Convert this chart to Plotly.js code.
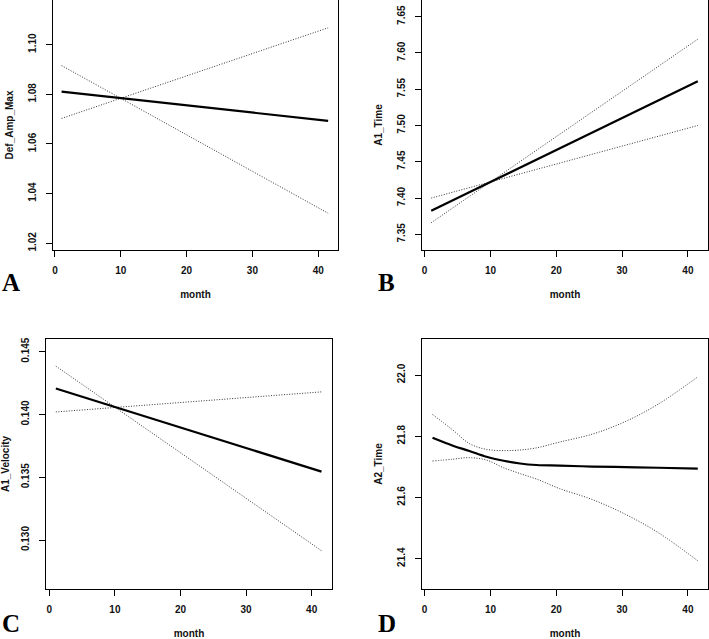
<!DOCTYPE html>
<html>
<head>
<meta charset="utf-8">
<script src="https://cdn.plot.ly/plotly-3.0.1.min.js"></script>
<style>html,body{margin:0;padding:0;background:#fff}#chart{width:709px;height:639px}</style>
</head>
<body>
<div id="chart"></div>
<script>
// Panel A: Def_Amp_Max
const monthA = [1, 10, 20, 30, 41.5];
const fitA   = [1.0811, 1.0785, 1.0756, 1.0727, 1.0693];
const upA    = [1.0703, 1.0784, 1.0874, 1.0964, 1.1068];
const loA    = [1.0916, 1.0784, 1.0637, 1.0490, 1.0321];
// Panel B: A1_Time
const monthB = [1, 10, 20, 30, 41.5];
const fitB   = [7.3825, 7.4222, 7.4662, 7.5103, 7.561];
const upB    = [7.366, 7.4222, 7.4847, 7.5472, 7.619];
const loB    = [7.400, 7.4222, 7.4469, 7.4716, 7.500];
// Panel C: A1_Velocity
const monthC = [1, 10, 20, 30, 41.5];
const fitC   = [0.14207, 0.14060, 0.13897, 0.13733, 0.13545];
const upC    = [0.14385, 0.14058, 0.13695, 0.13332, 0.12915];
const loC    = [0.1402, 0.14056, 0.14095, 0.14135, 0.1418];
// Panel D: A2_Time
const monthD = [1.2, 4.3, 6.8, 9.4, 12, 14.5, 17, 20.5, 25.5, 30.5, 35.5, 41.5];
const fitD   = [21.795, 21.769, 21.752, 21.733, 21.720, 21.711, 21.706, 21.704, 21.701, 21.699, 21.697, 21.694];
const upD    = [21.871, 21.820, 21.776, 21.757, 21.753, 21.755, 21.762, 21.781, 21.807, 21.848, 21.905, 21.994];
const loD    = [21.719, 21.725, 21.730, 21.722, 21.697, 21.678, 21.660, 21.629, 21.593, 21.545, 21.485, 21.393];

const yTitles = ["Def_Amp_Max", "A1_Time", "A1_Velocity", "A2_Time"];
const xTitle = "month";
const panelLetters = ["A", "B", "C", "D"];

const panels = [
  {x: monthA, fit: fitA, up: upA, lo: loA, shape: 'linear'},
  {x: monthB, fit: fitB, up: upB, lo: loB, shape: 'linear'},
  {x: monthC, fit: fitC, up: upC, lo: loC, shape: 'linear'},
  {x: monthD, fit: fitD, up: upD, lo: loD, shape: 'spline'}
];

const W = 709, H = 639;
const boxes = [
  {l: 53, r: 338, t: 0, b: 250, xr: [-0.3, 43.0], yr: [1.0173, 1.118], dt: 0.02, fmt: '.2f', y0: 1.02},
  {l: 422, r: 708, t: 0, b: 250, xr: [-0.4, 43.05], yr: [7.3284, 7.673], dt: 0.05, fmt: '.2f', y0: 7.35},
  {l: 46, r: 332, t: 339, b: 589, xr: [-0.5, 43.1], yr: [0.1261, 0.14601], dt: 0.005, fmt: '.3f', y0: 0.130},
  {l: 422, r: 708, t: 339, b: 589, xr: [-0.4, 43.05], yr: [21.301, 22.1176], dt: 0.2, fmt: '.1f', y0: 21.4}
];

const font = {family: 'Liberation Sans, Arial, sans-serif', size: 10, color: '#111', weight: 'bold'};
const data = [];
const layout = {
  width: W, height: H,
  margin: {l: 0, r: 0, t: 0, b: 0},
  paper_bgcolor: '#fff', plot_bgcolor: '#fff',
  showlegend: false,
  font: font,
  annotations: []
};

panels.forEach((p, i) => {
  const n = i + 1;
  const xa = 'x' + (n === 1 ? '' : n), ya = 'y' + (n === 1 ? '' : n);
  const bx = boxes[i];
  const dotLine = {color: '#333', width: 1, dash: '1px,1.6px', shape: p.shape};
  data.push({x: p.x, y: p.up, xaxis: xa, yaxis: ya, mode: 'lines', line: dotLine});
  data.push({x: p.x, y: p.lo, xaxis: xa, yaxis: ya, mode: 'lines', line: dotLine});
  data.push({x: p.x, y: p.fit, xaxis: xa, yaxis: ya, mode: 'lines', line: {color: '#000', width: 2.2, shape: p.shape}});
  const common = {showgrid: false, zeroline: false, showline: true, mirror: true, linecolor: '#000', linewidth: 1,
                  ticks: 'outside', ticklen: 6, tickcolor: '#000', tickwidth: 1, tickfont: font};
  layout['xaxis' + (n === 1 ? '' : n)] = Object.assign({}, common, {
    anchor: ya, domain: [bx.l / W, bx.r / W], range: bx.xr,
    tickmode: 'linear', tick0: 0, dtick: 10, ticklabelstandoff: 5,
    title: {text: xTitle, font: font, standoff: 15}
  });
  layout['yaxis' + (n === 1 ? '' : n)] = Object.assign({}, common, {
    anchor: xa, domain: [1 - bx.b / H, 1 - bx.t / H], range: bx.yr,
    tickmode: 'linear', tick0: bx.y0, dtick: bx.dt, tickformat: bx.fmt, tickangle: -90, ticklabelstandoff: 6,
    title: {text: yTitles[i], font: font, standoff: 11}
  });
});

const letterPos = [[0, 298], [376, 298], [0, 639], [376, 639]];
panelLetters.forEach((L, i) => {
  layout.annotations.push({
    text: '<b>' + L + '</b>', xref: 'paper', yref: 'paper',
    x: letterPos[i][0] / W, y: 1 - letterPos[i][1] / H, xanchor: 'left', yanchor: 'bottom',
    showarrow: false, font: {family: 'Liberation Serif, Times New Roman, serif', size: 25, color: '#000'}
  });
});

Plotly.newPlot('chart', data, layout, {staticPlot: true});
</script>
</body>
</html>
